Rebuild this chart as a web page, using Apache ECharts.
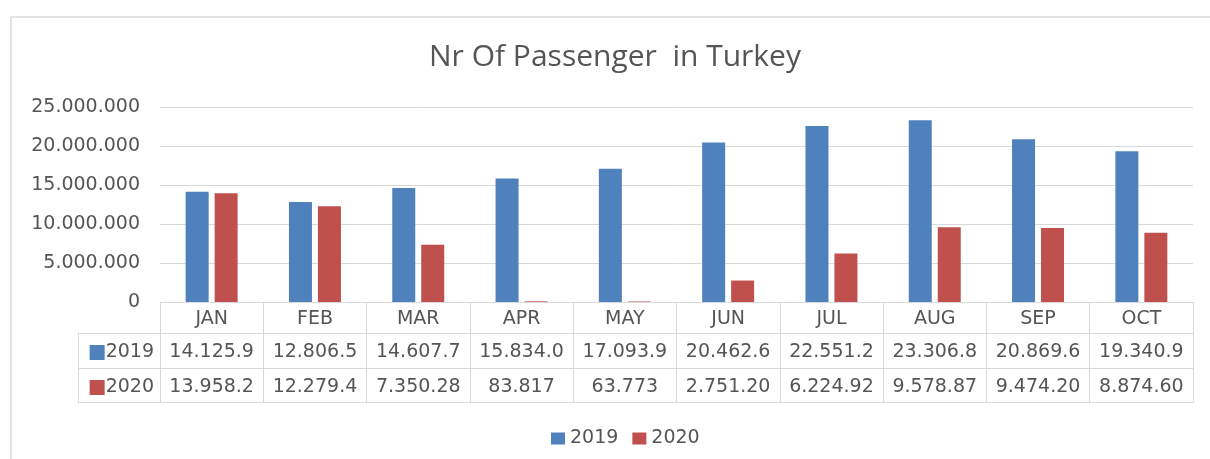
<!DOCTYPE html>
<html>
<head>
<meta charset="utf-8">
<title>Nr Of Passenger in Turkey</title>
<script src="https://cdn.jsdelivr.net/npm/echarts@6/dist/echarts.min.js"></script>
<style>
  html, body { margin: 0; padding: 0; background: #fff; }
  #chart { width: 1210px; height: 459px; }
</style>
</head>
<body>
<div id="chart"></div>
<script>
// data
var months = ['JAN', 'FEB', 'MAR', 'APR', 'MAY', 'JUN', 'JUL', 'AUG', 'SEP', 'OCT']
var pax2019 = [14125900, 12806500, 14607700, 15834000, 17093900, 20462600, 22551200, 23306800, 20869600, 19340900]
var pax2020 = [13958200, 12279400, 7350280, 83817, 63773, 2751200, 6224920, 9578870, 9474200, 8874600]
var yTicks = { min: 0, max: 25000000, interval: 5000000 }

var BLUE = '#4F81BD'
var RED = '#C0504D'
var TEXT = '#555555'
var LINE = '#D9D9D9'
var FONT = 'DejaVu Sans'

// layout
var gridLeft = 160
var gridRight = 17
var gridTop = 107
var gridBottom = 157
var axisY = 459 - gridBottom
var rowOffsets = [31, 66, 100] // table row lines below the axis
var headerLeft = 78

// 14125900 -> "14.125.900" -> "14.125.9" (cell is cut like in the sheet)
function dotted(v) {
  return String(Math.round(v)).replace(/\B(?=(\d{3})+(?!\d))/g, '.')
}
function cell(v) {
  return dotted(v).slice(0, 8)
}

function rowAxis(offset, values, name, color) {
  return {
    type: 'category',
    data: months,
    position: 'bottom',
    offset: offset,
    axisLine: { show: true, lineStyle: { color: LINE } },
    axisTick: { show: false },
    axisLabel: {
      show: !!values,
      interval: 0,
      margin: 10,
      color: TEXT,
      fontFamily: FONT,
      fontSize: 19,
      formatter: function (v, i) { return values ? cell(values[i]) : '' }
    },
    name: name || '',
    nameLocation: 'start',
    nameGap: 6,
    nameTextStyle: {
      verticalAlign: 'top',
      padding: [10, 0, 0, 0],
      rich: {
        sq: { width: 15, height: 15, backgroundColor: color },
        t: { color: TEXT, fontFamily: FONT, fontSize: 19, padding: [0, 0, 0, 1] }
      }
    }
  }
}

var chart = echarts.init(document.getElementById('chart'))

var headerLines = [rowOffsets[0], rowOffsets[1], rowOffsets[2]].map(function (o) {
  return {
    type: 'line',
    shape: { x1: headerLeft, y1: axisY + o + 0.5, x2: gridLeft, y2: axisY + o + 0.5 },
    style: { stroke: LINE, lineWidth: 1 }
  }
})

var option = {
  animation: false,
  color: [BLUE, RED],
  title: {
    text: 'Nr Of Passenger  in Turkey',
    left: 424,
    top: 37,
    textStyle: { color: TEXT, fontFamily: 'Open Sans', fontWeight: 'normal', fontSize: 30 }
  },
  legend: {
    data: ['2019', '2020'],
    icon: 'rect',
    left: 546,
    top: 424,
    itemWidth: 14,
    itemHeight: 12,
    itemGap: 14,
    textStyle: { color: TEXT, fontFamily: FONT, fontSize: 19 }
  },
  grid: { left: gridLeft, right: gridRight, top: gridTop, bottom: gridBottom, containLabel: false },
  xAxis: [
    {
      type: 'category',
      data: months,
      position: 'bottom',
      axisLine: { show: true, lineStyle: { color: LINE } },
      axisTick: { show: true, interval: 0, length: rowOffsets[2], lineStyle: { color: LINE } },
      axisLabel: { interval: 0, margin: 8, color: TEXT, fontFamily: FONT, fontSize: 19 }
    },
    rowAxis(rowOffsets[0], pax2019, '{sq|}{t|2019}', BLUE),
    rowAxis(rowOffsets[1], pax2020, '{sq|}{t|2020}', RED),
    rowAxis(rowOffsets[2], null)
  ],
  yAxis: {
    type: 'value',
    min: yTicks.min,
    max: yTicks.max,
    interval: yTicks.interval,
    axisLine: { show: false },
    axisTick: { show: false },
    splitLine: { lineStyle: { color: LINE } },
    axisLabel: {
      margin: 20,
      color: TEXT,
      fontFamily: FONT,
      fontSize: 19,
      formatter: function (v) { return dotted(v) }
    }
  },
  series: [
    { name: '2019', type: 'bar', data: pax2019, barWidth: 23, barGap: '26%' },
    { name: '2020', type: 'bar', data: pax2020, barWidth: 23, barGap: '26%' }
  ],
  graphic: headerLines.concat([
    {
      type: 'line',
      shape: { x1: headerLeft + 0.5, y1: axisY + rowOffsets[0], x2: headerLeft + 0.5, y2: axisY + rowOffsets[2] },
      style: { stroke: LINE, lineWidth: 1 }
    },
    {
      type: 'rect',
      shape: { x: 11, y: 17, width: 1400, height: 700 },
      style: { fill: 'none', stroke: '#E3E3E3', lineWidth: 2 },
      silent: true
    }
  ])
}

chart.setOption(option)
</script>
</body>
</html>
